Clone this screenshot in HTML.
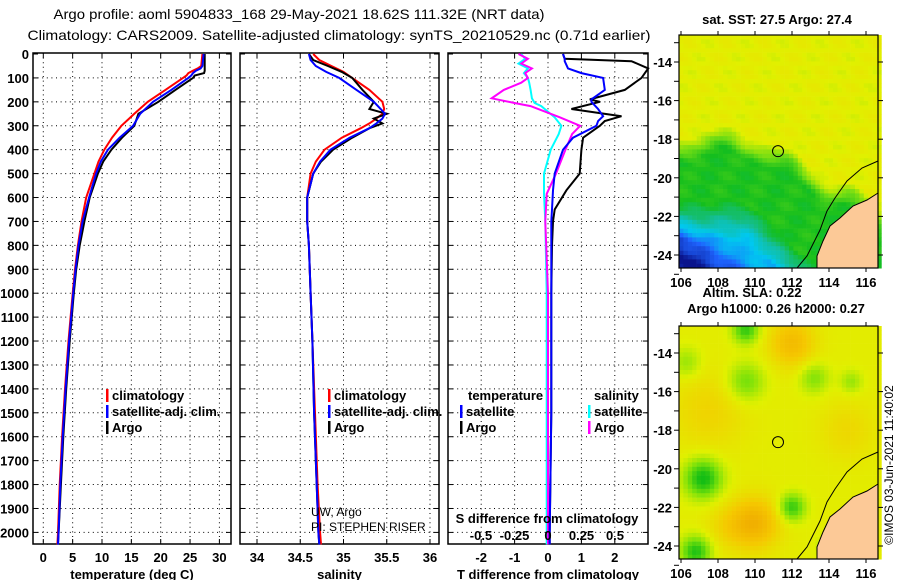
<!DOCTYPE html>
<html><head><meta charset="utf-8"><style>
html,body{margin:0;padding:0;background:#fff;}
svg{display:block;font-family:"Liberation Sans",sans-serif;}
.b{font-weight:bold;font-size:13px;}
</style></head><body>
<svg id="s" width="900" height="580" viewBox="0 0 900 580" xmlns="http://www.w3.org/2000/svg">
<text x="299" y="19" text-anchor="middle" font-size="14" textLength="491" lengthAdjust="spacingAndGlyphs">Argo profile: aoml 5904833_168 29-May-2021 18.62S 111.32E (NRT data)</text>
<text x="339" y="40" text-anchor="middle" font-size="14" textLength="623" lengthAdjust="spacingAndGlyphs">Climatology: CARS2009. Satellite-adjusted climatology: synTS_20210529.nc (0.71d earlier)</text>
<g id="g"></g>
</svg>
<script>
// ---- data ----
const depthT=[0,50,60,70,80,90,100,150,200,250,300,350,400,450,500,600,700,800,900,1000,1200,1400,1600,1800,2000,2050];
const tempClim=[27.1,26.9,26.3,25.5,24.7,24.4,23.8,20.8,17.8,15.5,13.3,11.7,10.4,9.4,8.7,7.3,6.5,5.9,5.4,5.0,4.3,3.7,3.2,2.8,2.5,2.4];
const tempSat=[27.3,27.1,26.8,26.0,25.5,25.2,24.7,21.8,18.7,16.5,15.3,13.0,11.0,9.8,9.0,7.8,6.7,6.0,5.5,5.1,4.4,3.8,3.3,2.9,2.6,2.5];
const tempArgo=[27.5,27.5,27.5,27.5,27.4,25.8,25.5,22.5,19.6,16.2,15.5,13.4,11.6,10.2,9.3,7.9,7.0,6.2,5.6,5.2,4.5,3.9,3.4,3.0,2.6,2.5];
const depthS=[0,25,50,75,100,150,200,230,250,270,290,310,350,400,450,500,600,700,800,1000,1200,1500,1800,2000,2050];
const salArgo=[34.6,34.65,34.82,34.98,35.1,35.22,35.35,35.3,35.5,35.35,35.45,35.3,35.1,34.88,34.74,34.65,34.58,34.58,34.6,34.62,34.64,34.66,34.69,34.71,34.72];
const salClim=[34.65,34.72,34.86,35.0,35.1,35.3,35.45,35.47,35.45,35.38,35.3,35.2,34.98,34.78,34.68,34.62,34.58,34.58,34.6,34.62,34.64,34.67,34.7,34.73,34.74];
const salSat=[34.6,34.62,34.68,34.8,34.95,35.15,35.35,35.43,35.48,35.45,35.38,35.3,35.07,34.85,34.73,34.65,34.58,34.58,34.6,34.62,34.64,34.66,34.69,34.71,34.72];
const depthDT=[0,20,30,60,80,100,150,190,200,230,260,280,300,350,400,500,570,650,700,800,1000,1500,2000,2050];
const dTArgo=[0.45,0.5,2.5,3.0,2.9,2.8,2.3,1.25,1.55,0.7,2.2,1.7,1.55,1.05,1.0,0.95,0.55,0.2,0.15,0.12,0.1,0.1,0.05,0.05];
const dTSat=[0.45,0.5,0.5,0.6,1.0,1.65,1.7,1.3,1.3,1.5,1.65,1.5,1.45,0.75,0.45,0.2,0.15,0.12,0.1,0.1,0.1,0.1,0.05,0.05];
const depthDS=[0,20,40,60,80,100,120,150,185,205,218,265,300,335,400,500,585,700,1000,1500,2000,2050];
const dSArgo=[-0.22,-0.15,-0.2,-0.12,-0.17,-0.15,-0.2,-0.33,-0.42,-0.25,-0.13,0.09,0.24,0.18,0.13,0.06,-0.01,-0.02,0.0,0.0,0.0,0.0];
const dSSat=[-0.2,-0.17,-0.22,-0.15,-0.18,-0.15,-0.14,-0.13,-0.12,-0.1,-0.05,0.05,0.1,0.08,0.02,-0.03,-0.03,-0.02,-0.01,-0.01,-0.01,-0.01];
const depthTicks=[0,100,200,300,400,500,600,700,800,900,1000,1100,1200,1300,1400,1500,1600,1700,1800,1900,2000];
const tempTicks=[0,5,10,15,20,25,30];
const salTicks=[34,34.5,35,35.5,36];
const dTTicks=[-2,-1,0,1,2];
const dSTicks=[-0.5,-0.25,0,0.25,0.5];
const lonTicks=[106,108,110,112,114,116];
const latTicks=[-14,-16,-18,-20,-22,-24];

const NS="http://www.w3.org/2000/svg";
const G=document.getElementById('g');
function mk(t,a,p){const e=document.createElementNS(NS,t);for(const k in a)e.setAttribute(k,a[k]);(p||G).appendChild(e);return e;}
function txt(x,y,s,a,p){const e=mk('text',Object.assign({x:x,y:y},a||{}),p);e.textContent=s;return e;}
const Y=d=>54+d*0.2392;
const xT=v=>43.3+v*5.87;
const xS=v=>257+(v-34)*86.5;
const xDT=v=>548+v*33.4;
const xDS=v=>548+v*134;

function panel(name,x0,x1,ticks,xf,fmt,title){
  const g=mk('g',{});
  
  
  depthTicks.forEach(d=>{ if(d>0){const l=mk('line',{x1:x0,x2:x1,y1:Y(d),y2:Y(d),stroke:'#000','stroke-width':1,'stroke-dasharray':'1,3.6'},g);}
    mk('line',{x1:x0,x2:x0+5,y1:Y(d),y2:Y(d),stroke:'#000'},g);mk('line',{x1:x1-5,x2:x1,y1:Y(d),y2:Y(d),stroke:'#000'},g);});
  ticks.forEach(v=>{const x=xf(v);
    const l=mk('line',{x1:x,x2:x,y1:53,y2:544,stroke:'#000','stroke-width':1,'stroke-dasharray':'1,3.6'},g);
    
    
    mk('line',{x1:x,x2:x,y1:53,y2:58,stroke:'#000'},g);mk('line',{x1:x,x2:x,y1:539,y2:544,stroke:'#000'},g);
    const t=txt(x,562,fmt(v),{'text-anchor':'middle','class':'b'},g);
    
    });
  const r=mk('rect',{x:x0,y:53,width:x1-x0,height:491,fill:'none',stroke:'#000','stroke-width':1.5},g);
  
  
  const tt=txt((x0+x1)/2,579,title,{'text-anchor':'middle','class':'b'},g);
  
  
  return g;
}
function line(name,ds,vs,xf,col,p){
  const pts=ds.map((d,i)=>xf(vs[i]).toFixed(1)+','+Y(d).toFixed(1)).join(' ');
  const e=mk('polyline',{points:pts,fill:'none',stroke:col,'stroke-width':2},p);
  
  
}
depthTicks.forEach(d=>{const t=txt(29,Y(d)+5,String(d),{'text-anchor':'end','class':'b'});
  
  });
const p1=panel('temperature-panel',33,231,tempTicks,xT,v=>String(v),'temperature (deg C)');
line('temp-climatology-line',depthT,tempClim,xT,'#f00',p1);
line('temp-argo-line',depthT,tempArgo,xT,'#000',p1);
line('temp-satellite-line',depthT,tempSat,xT,'#00f',p1);
const p2=panel('salinity-panel',240,439,salTicks,xS,v=>String(v),'salinity');
line('sal-climatology-line',depthS,salClim,xS,'#f00',p2);
line('sal-argo-line',depthS,salArgo,xS,'#000',p2);
line('sal-satellite-line',depthS,salSat,xS,'#00f',p2);
const p3=panel('difference-panel',448,648,dTTicks,xDT,v=>String(v),'T difference from climatology');
line('s-diff-satellite-line',depthDS,dSSat,xDS,'#0ff',p3);
line('s-diff-argo-line',depthDS,dSArgo,xDS,'#f0f',p3);
line('t-diff-argo-line',depthDT,dTArgo,xDT,'#000',p3);
line('t-diff-satellite-line',depthDT,dTSat,xDT,'#00f',p3);
dSTicks.forEach(v=>{const t=txt(xDS(v),540,String(v),{'text-anchor':'middle','class':'b'},p3);
  
  });
const sl=txt(547,523,'S difference from climatology',{'text-anchor':'middle','class':'b'},p3);



function legend(name,x,y,col,label){
  const g=mk('g',{});
  
  
  mk('rect',{x:x,y:y-6,width:2.5,height:13,fill:col},g);
  txt(x+6,y+5,label,{'class':'b'},g);
}
legend('legend-climatology',106,395,'#f00','climatology');
legend('legend-satellite-adj',106,411,'#00f','satellite-adj. clim.');
legend('legend-argo',106,427,'#000','Argo');
legend('legend-sal-climatology',328,395,'#f00','climatology');
legend('legend-sal-satellite-adj',328,411,'#00f','satellite-adj. clim.');
legend('legend-sal-argo',328,427,'#000','Argo');
const lt=txt(468,400,'temperature',{'class':'b'});
legend('legend-t-satellite',460,411,'#00f','satellite');
legend('legend-t-argo',460,427,'#000','Argo');
const ls=txt(594,400,'salinity',{'class':'b'});
legend('legend-s-satellite',588,411,'#0ff','satellite');
legend('legend-s-argo',588,427,'#f0f','Argo');
const c1=txt(311,516,'UW, Argo',{'font-size':12});
const c2=txt(311,531,'PI: STEPHEN RISER',{'font-size':12});

// ---- maps ----
const lonX=l=>681+(l-106)*18.5;
function latY(top){return l=>top+27+(-14-l)*19.3;}
function cmap(stops,v){v=Math.max(0,Math.min(stops.length-1,v));const i=Math.min(stops.length-2,Math.floor(v));const f=v-i;
  const a=stops[i],b=stops[i+1];return 'rgb('+a.map((c,k)=>Math.round(c+(b[k]-c)*f)).join(',')+')';}
const sstStops=[[10,20,140],[30,100,255],[0,200,240],[20,190,150],[20,190,30],[110,220,20],[225,240,0],[240,215,0]];
function sst(lon,lat){
  let v=6.1+0.25*Math.sin(lon*3.1+lat*2.3)*Math.cos(lat*4.1);
  const d=(-lat)-17.6-Math.max(0,lon-109.8)*0.55+0.4*Math.sin(lon*1.7);
  v-=Math.max(0,Math.min(2,d*1.6));
  const e=(-lat)-21.2-Math.max(0,lon-109.5)*0.9;
  v-=Math.max(0,Math.min(2.2,e*1.1));
  const c=Math.max(0,(-lat-23)*0.8+(108-lon)*0.5);
  v-=Math.min(2,c);
  return v;
}
const slaStops=[[20,190,20],[120,225,10],[225,240,0],[245,200,0],[240,170,0]];
const blobs=[[112,-13.5,1.3,1.2],[110,-22.8,1.6,1.3],[107.5,-17,0.6,2],[115,-18,0.5,1.5],[108.5,-23,0.5,1.2],
 [107.2,-20.5,-2.2,1.0],[112,-22,-1.8,0.7],[109.5,-15.5,-1.2,1.0],[113.2,-15.3,-1.0,0.8],[106.8,-24.3,-2,0.8],[109.5,-12.8,-1.8,0.7],[115.2,-15.5,-0.8,0.6],[106.3,-14.5,-0.8,0.8],[114,-24,-0.8,0.6]];
function sla(lon,lat){let v=2.1;blobs.forEach(b=>{const r2=((lon-b[0])**2+(lat-b[1])**2)/(b[3]*b[3]);v+=b[2]*Math.exp(-r2);});return v;}
function map(name,top,fn,stops){
  const g=mk('g',{});
  
  
  const ly=latY(top);
  const cs=4.4;
  for(let x=679;x<878;x+=cs)for(let y=top;y<top+233;y+=cs){
    const lon=106+(x+cs/2-681)/18.5,lat=-14-(y+cs/2-top-27)/19.3;
    mk('rect',{x:x,y:y,width:cs+0.3,height:cs+0.3,fill:cmap(stops,fn(lon,lat))},g);}
  const o=top-35;
  const land='878,'+(193+o)+' 867,'+(200+o)+' 853,'+(206+o)+' 840,'+(218+o)+' 830,'+(226+o)+' 823,'+(241+o)+' 817,'+(256+o)+' 817,'+(268+o)+' 878,'+(268+o);
  const ld=mk('polygon',{points:land,fill:'#fcc997',stroke:'#000','stroke-width':1},g);
  
  
  mk('polyline',{points:'878,'+(161+o)+' 862,'+(168+o)+' 847,'+(181+o)+' 835,'+(198+o)+' 827,'+(211+o)+' 820,'+(230+o)+' 812,'+(246+o)+' 807,'+(256+o)+' 797,'+(268+o),fill:'none',stroke:'#000','stroke-width':1},g);
  mk('rect',{x:679,y:top,width:199,height:233,fill:'none',stroke:'#000','stroke-width':1.2},g);
  const c=mk('circle',{cx:778,cy:ly(-18.62),r:5.5,fill:'none',stroke:'#000','stroke-width':1},g);
  
  
  lonTicks.forEach(l=>{mk('line',{x1:lonX(l),x2:lonX(l),y1:top-4,y2:top,stroke:'#000'},g);mk('line',{x1:lonX(l),x2:lonX(l),y1:top+233,y2:top+237,stroke:'#000'},g);
    const t=txt(lonX(l),top+252,String(l),{'text-anchor':'middle','class':'b'},g);});
  latTicks.forEach(l=>{mk('line',{x1:674,x2:679,y1:ly(l),y2:ly(l),stroke:'#000'},g);mk('line',{x1:878,x2:883,y1:ly(l),y2:ly(l),stroke:'#000'},g);
    const t=txt(672,ly(l)+5,String(l),{'text-anchor':'end','class':'b'},g);});
  [-13,-15,-17,-19,-21,-23,-25].forEach(l=>mk('line',{x1:674,x2:679,y1:ly(l),y2:ly(l),stroke:'#000'},g));
}
map('sst-map',35,sst,sstStops);
map('sla-map',326,sla,slaStops);
const m1=txt(777,24,'sat. SST: 27.5 Argo: 27.4',{'text-anchor':'middle','class':'b','font-size':12});
const m2=txt(752,297,'Altim. SLA: 0.22',{'text-anchor':'middle','class':'b'});
const m3=txt(776,313,'Argo h1000: 0.26 h2000: 0.27',{'text-anchor':'middle','class':'b','font-size':12});
const cr=txt(0,0,'©IMOS 03-Jun-2021 11:40:02',{'font-size':12,'text-anchor':'middle',transform:'translate(893,465) rotate(-90)'});


</script>
</body></html>
